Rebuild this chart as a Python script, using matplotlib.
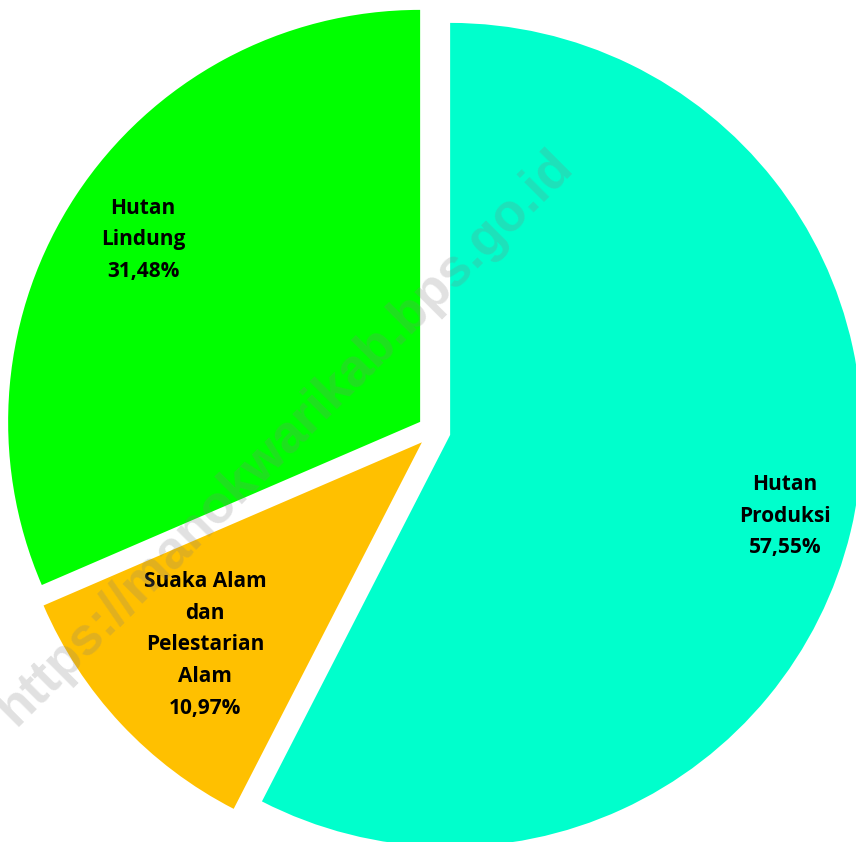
import matplotlib
matplotlib.use("Agg")
import matplotlib.pyplot as plt

# data: share of forest area by function
categories = ["Hutan Produksi", "Suaka Alam dan Pelestarian Alam", "Hutan Lindung"]
shares = [57.55, 10.97, 31.48]
label_lines = [
    "Hutan\nProduksi\n57,55%",
    "Suaka Alam\ndan\nPelestarian\nAlam\n10,97%",
    "Hutan\nLindung\n31,48%",
]
colors = ["#00FFCC", "#FFC000", "#00FF00"]

W, H = 856, 842
fig = plt.figure(figsize=(W / 100, H / 100), dpi=100)
ax = fig.add_axes([0, 0, 1, 1])

center = (434, H - 431)
radius = 412

# explode is in data units here (pixels)
wedges, _ = ax.pie(
    shares,
    colors=colors,
    startangle=90,
    counterclock=False,
    explode=[16.6] * len(shares),
    radius=radius,
    center=center,
    wedgeprops=dict(linewidth=0),
)

# label positions (pixels, top-left origin)
label_pos = [(785, 516), (205, 645), (143, 240)]
for txt, (x, y) in zip(label_lines, label_pos):
    ax.text(x, H - y, txt, ha="center", va="center", fontsize=15,
            fontweight="bold", family="Open Sans", linespacing=1.68, color="black")

# watermark
ax.text(285, H - 438, "https://manokwarikab.bps.go.id", rotation=45,
        ha="center", va="center", fontsize=38, fontweight="bold",
        family="Liberation Sans", color="#808080", alpha=0.24, zorder=10)

ax.set_xlim(0, W)
ax.set_ylim(0, H)
ax.set_aspect("auto")
ax.axis("off")

fig.savefig("out.png", dpi=100, facecolor="white")
